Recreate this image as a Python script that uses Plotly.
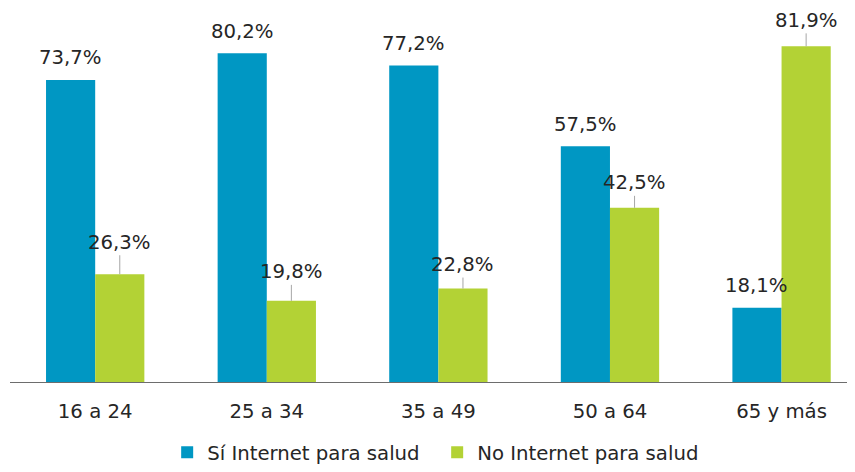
import plotly.graph_objects as go

categories = ["16 a 24", "25 a 34", "35 a 49", "50 a 64", "65 y más"]
si_internet = [73.7, 80.2, 77.2, 57.5, 18.1]
no_internet = [26.3, 19.8, 22.8, 42.5, 81.9]
series_names = ["Sí Internet para salud", "No Internet para salud"]

BLUE = "#0097C3"
GREEN = "#B3D235"
TEXT = "#262626"
FONT = "Verdana, DejaVu Sans, sans-serif"
FS = 19.7

BARGAP = 0.427
half = (1 - BARGAP) / 4  # offset of each bar centre from category centre

# label offsets (px above bar top) for the leader-line labels of the green series
green_label_offsets = [32, 29, 24, 25, 26]

x_idx = list(range(len(categories)))

fig = go.Figure()
fig.add_trace(go.Bar(x=x_idx, y=si_internet, name=series_names[0],
                     marker=dict(color=BLUE, line=dict(width=0))))
fig.add_trace(go.Bar(x=x_idx, y=no_internet, name=series_names[1],
                     marker=dict(color=GREEN, line=dict(width=0))))

def fmt(v):
    return f"{v:.1f}".replace(".", ",") + "%"

annotations = []
for i, v in enumerate(si_internet):
    annotations.append(dict(x=i - half, y=v, xref="x", yref="y", text=fmt(v),
                            showarrow=True, ax=0, ay=-22, arrowcolor="rgba(0,0,0,0)",
                            arrowwidth=0.1, arrowhead=0,
                            font=dict(family=FONT, size=FS, color=TEXT)))
for i, v in enumerate(no_internet):
    annotations.append(dict(x=i + half, y=v, xref="x", yref="y", text=fmt(v),
                            showarrow=True, ax=0, ay=-green_label_offsets[i],
                            arrowcolor="#A6A6A6",
                            arrowwidth=1, arrowhead=0, standoff=0,
                            font=dict(family=FONT, size=FS, color=TEXT)))

fig.update_layout(
    width=847, height=464,
    margin=dict(l=2, r=0, t=0, b=83),
    paper_bgcolor="white", plot_bgcolor="white",
    barmode="group", bargap=BARGAP, bargroupgap=0,
    font=dict(family=FONT, size=FS, color=TEXT),
    showlegend=True,
    legend=dict(orientation="h", x=0.186, xanchor="left", y=-0.189, yanchor="middle",
                font=dict(family=FONT, size=FS, color=TEXT), itemwidth=30,
                entrywidth=225, traceorder="normal"),
    annotations=annotations,
)
fig.update_xaxes(tickmode="array", tickvals=x_idx, ticktext=categories,
                 range=[-0.4965, 4.428], showline=True, linecolor="#6D6D6D", linewidth=1,
                 ticks="", showgrid=False, zeroline=False, ticklabelstandoff=11)
fig.update_yaxes(range=[0, 91.26], visible=False, showgrid=False, zeroline=False)

fig.write_html("out.html")
